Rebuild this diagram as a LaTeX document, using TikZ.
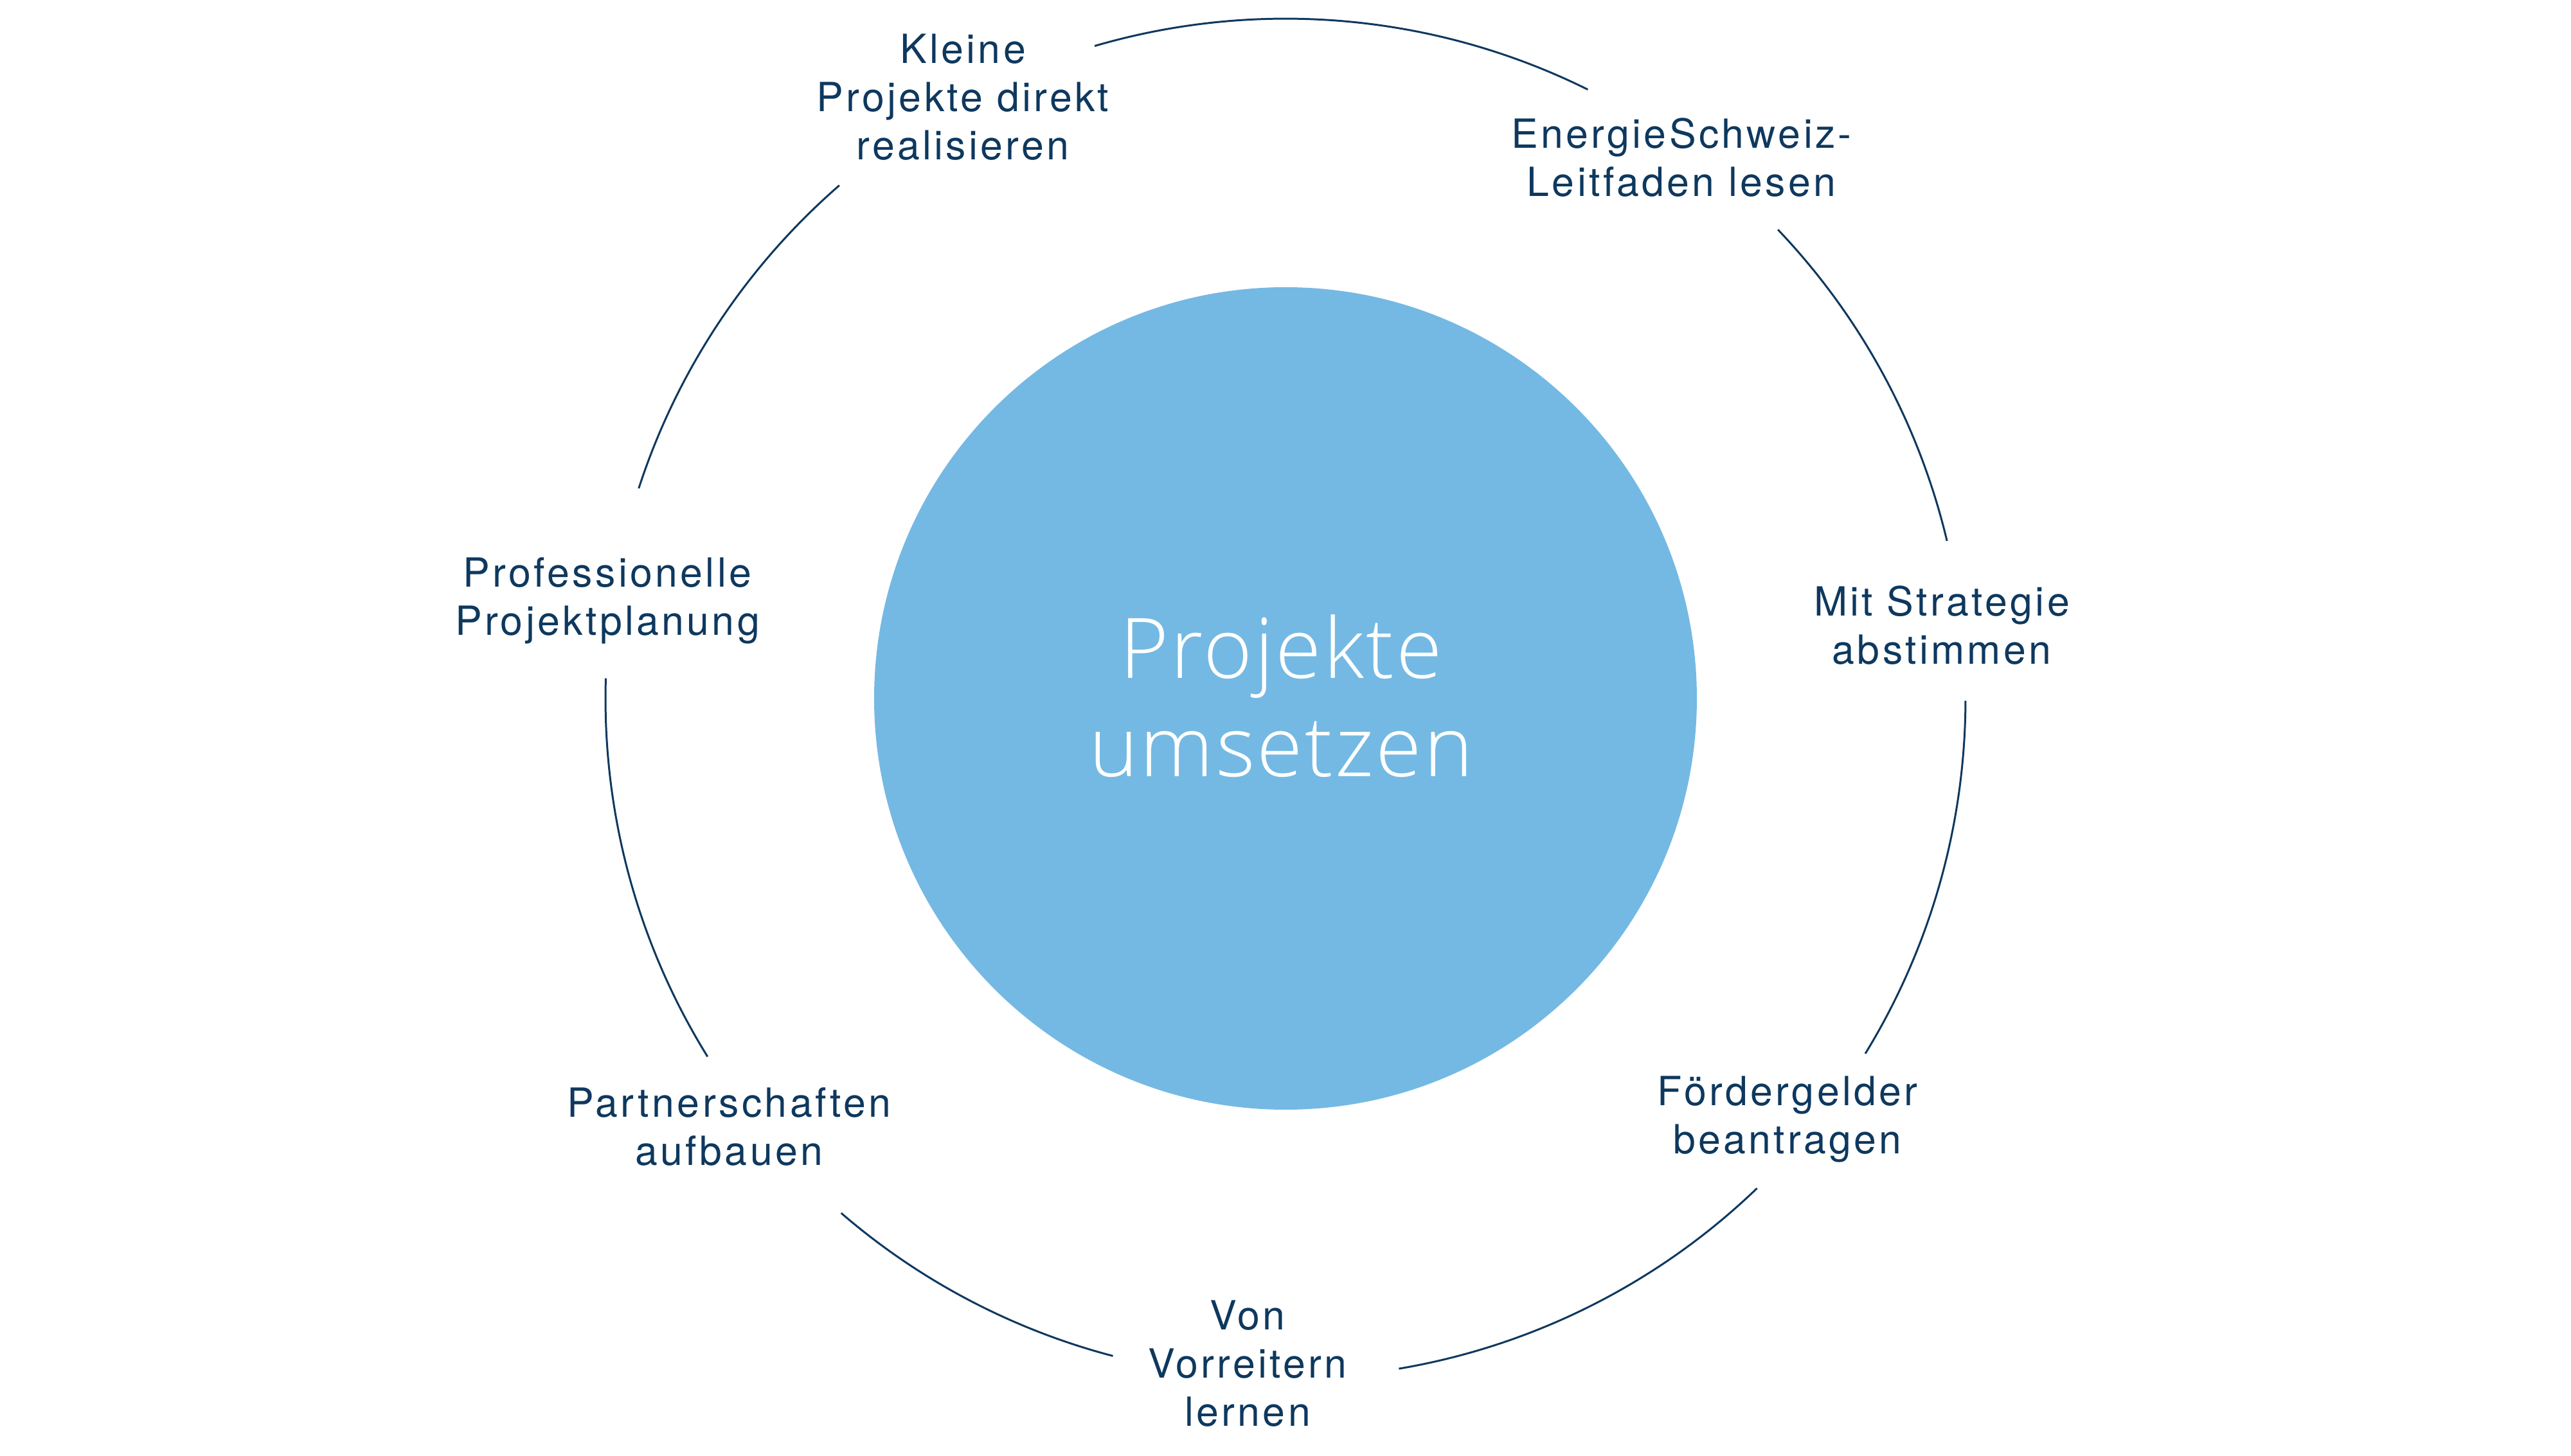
\documentclass[tikz,border=0pt]{standalone}
\usepackage{fontspec}
\setmainfont{TeX Gyre Heros}
\newfontfamily\labelfont{TeX Gyre Heros}[LetterSpace=7.0]
\newfontfamily\hubfont{Open Sans Light}[LetterSpace=2.5]
\usetikzlibrary{positioning}
\definecolor{Navy}{RGB}{14,56,94}
\definecolor{SkyBlue}{RGB}{116,185,227}
\tikzset{%
ring/.style={Navy, line width=0.85pt},
station/.style={anchor=north, inner sep=0pt, align=center, text=Navy,
  font=\labelfont\fontsize{17.8}{21.3}\selectfont},
}

\begin{document}
\begin{tikzpicture}
\useasboundingbox (-20,-11.79) rectangle (20,10.87);

\node[circle, fill=SkyBlue, inner sep=0pt, minimum size=12.8cm] (hub) at (0,0) {};
\node[anchor=north, inner sep=0pt, align=center, text=white,
  font=\hubfont\fontsize{37}{43.4}\selectfont] (hubtext) at (-0.07,1.31) {Projekte\\umsetzen};

% outer ring, cut open at the labels
\foreach \a/\b in {106.3/63.6, 43.6/13.4, -0.2/-31.5, -46.1/-80.4, -104.7/-130.8, -148.2/-181.7, 162/131}
  \draw[ring] (\a:10.58) arc[start angle=\a, end angle=\b, radius=10.58];

\node[station] (kleine) at (-5.02,10.35) {Kleine\\Projekte direkt\\realisieren};
\node[station] (leitfaden) at (6.16,9.04) {EnergieSchweiz-\\Leitfaden lesen};
\node[station] (strategie) at (10.21,1.76) {Mit Strategie\\abstimmen};
\node[station] (foerder) at (7.81,-5.87) {Fördergelder\\beantragen};
\node[station] (vorreiter) at (-0.59,-9.36) {Von\\Vorreitern\\lernen};
\node[station] (partner) at (-8.655,-6.05) {Partnerschaften\\aufbauen};
\node[station] (planung) at (-10.55,2.20) {Professionelle\\Projektplanung};

%\draw[red] (0,0) circle (10.58);
\end{tikzpicture}
\end{document}
